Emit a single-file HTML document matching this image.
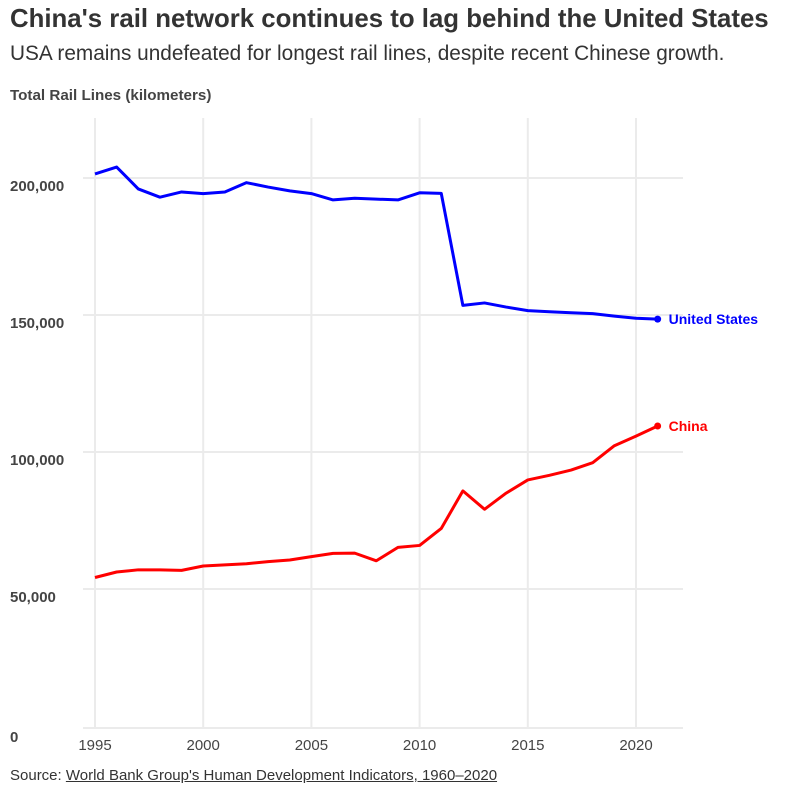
<!DOCTYPE html>
<html><head><meta charset="utf-8"><style>
body{margin:0;background:#fff;font-family:"Liberation Sans",sans-serif;}
#wrap{position:relative;width:794px;height:797px;overflow:hidden}
h1{position:absolute;left:10px;top:5px;margin:0;font-size:25.8px;font-weight:bold;color:#333}
.sub{position:absolute;left:10px;top:42px;font-size:20.8px;color:#333}
.ytitle{position:absolute;left:10px;top:87px;font-size:15.2px;font-weight:bold;color:#444}
.src{position:absolute;left:10px;top:767px;font-size:15px;color:#333}
.src u{color:#333}
</style></head><body>
<div id="wrap">
<h1>China's rail network continues to lag behind the United States</h1>
<div class="sub">USA remains undefeated for longest rail lines, despite recent Chinese growth.</div>
<div class="ytitle">Total Rail Lines (kilometers)</div>
<svg id="chart" width="794" height="797" style="position:absolute;left:0;top:0"></svg>
<div class="src">Source: <u>World Bank Group's Human Development Indicators, 1960–2020</u></div>
</div>
<script>
const years=[1995,1996,1997,1998,1999,2000,2001,2002,2003,2004,2005,2006,2007,2008,2009,2010,2011,2012,2013,2014,2015,2016,2017,2018,2019,2020,2021];
const usValues=[201500,204000,196000,193000,194900,194300,194900,198300,196700,195300,194300,192000,192600,192300,192000,194600,194400,153500,154400,152900,151600,151200,150800,150500,149600,148800,148500];
const chinaValues=[54200,56200,57000,57000,56800,58400,58800,59200,60000,60600,61800,63000,63100,60300,65200,65900,72100,85800,79100,85000,89800,91500,93400,96100,102300,105800,109500];
const xTicks=[1995,2000,2005,2010,2015,2020];
const yTicks=[0,50000,100000,150000,200000];
const yTickLabels=["0","50,000","100,000","150,000","200,000"];
const svg=document.getElementById('chart');
const NS='http://www.w3.org/2000/svg';
const xs=y=>95+(y-1995)*(636-95)/25;
const ys=v=>726-v*(548/200000);
function mk(t,a){const e=document.createElementNS(NS,t);for(const k in a)e.setAttribute(k,a[k]);svg.appendChild(e);return e;}
xTicks.forEach(t=>{
 const l=mk('line',{x1:xs(t),x2:xs(t),y1:118,y2:728,stroke:'#ebebeb','stroke-width':2});
 
 
 const tx=mk('text',{x:xs(t),y:750,'text-anchor':'middle','font-size':15,fill:'#444','font-family':'Liberation Sans, sans-serif'});
 tx.textContent=t;
 
 
});
yTicks.forEach((t,i)=>{
 if(t>0){const l=mk('line',{x1:83,x2:683,y1:ys(t),y2:ys(t),stroke:'#ebebeb','stroke-width':2});
 
 }
 const tx=mk('text',{x:10,y:t===0?742:ys(t)+13,'font-size':15,'font-weight':'bold',fill:'#444','font-family':'Liberation Sans, sans-serif'});
 tx.textContent=yTickLabels[i];
 
 
});
const ax=mk('line',{x1:83,x2:683,y1:728,y2:728,stroke:'#ebebeb','stroke-width':2});


function series(vals,color,name,label){
 const p=mk('polyline',{points:vals.map((v,i)=>xs(years[i])+','+ys(v)).join(' '),fill:'none',stroke:color,'stroke-width':3,'stroke-linejoin':'round'});
 
 
 const lx=xs(years[years.length-1]),ly=ys(vals[vals.length-1]);
 const c=mk('circle',{cx:lx,cy:ly,r:3.5,fill:color});
 
 
 const t=mk('text',{x:lx+11,y:ly+5,'font-size':14,'font-weight':'bold',fill:color,'font-family':'Liberation Sans, sans-serif'});
 t.textContent=label;
 
 
}
series(usValues,'#0000ff','united-states','United States');
series(chinaValues,'#ff0000','china','China');
</script>
</body></html>
